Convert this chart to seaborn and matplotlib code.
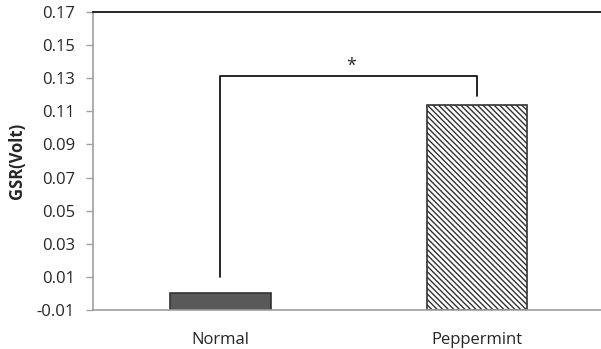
import numpy as np
import matplotlib
matplotlib.use("Agg")
import matplotlib.pyplot as plt
import seaborn as sns

# Dados do grafico
categorias = ["Normal", "Peppermint"]
valores = [0.0, 0.114]
y_min, y_max = -0.01, 0.17
y_ticks = np.round(np.arange(-0.01, 0.171, 0.02), 2)

# Linha de significancia (x das categorias, alturas)
sig_x = [0, 1]
sig_topo = 0.1316
sig_base = [0.010, 0.119]
sig_texto = "*"

sns.set_style("white")
plt.rcParams["font.family"] = ["Open Sans", "DejaVu Sans"]
plt.rcParams["hatch.color"] = "#555555"
plt.rcParams["hatch.linewidth"] = 1.0

fig = plt.figure(figsize=(6.01, 3.49), dpi=100)
ax = fig.add_axes([0.1547, 0.1117, 0.8453, 0.8539])

sns.barplot(x=categorias, y=valores, ax=ax, width=0.39,
            palette=["#595959", "white"], hue=categorias, legend=False,
            edgecolor="#333333", linewidth=1.2, saturation=1)

# Barras comecam no minimo do eixo (estilo Excel)
for barra, v in zip(ax.patches, valores):
    barra.set_y(y_min)
    barra.set_height(v - y_min)

ax.patches[1].set_hatch("\\\\\\\\\\\\")

# Colchete de significancia
ax.plot([sig_x[0], sig_x[0], sig_x[1], sig_x[1]],
        [sig_base[0], sig_topo, sig_topo, sig_base[1]],
        color="black", linewidth=1.2)
ax.text((sig_x[0] + sig_x[1]) / 2 + 0.01, sig_topo + 0.0005, sig_texto,
        ha="center", va="bottom", fontsize=13)

ax.set_xlim(-0.497, 1.483)
ax.set_ylim(y_min, y_max)
ax.set_yticks(y_ticks)
ax.set_yticklabels([f"{t:.2f}" for t in y_ticks])
ax.set_ylabel("GSR(Volt)", fontweight="bold", fontsize=12, labelpad=8)
ax.set_xlabel("")

ax.tick_params(axis="y", which="both", left=True, length=5, width=1,
               color="#a0a0a0", labelsize=12, pad=8)
ax.tick_params(axis="x", bottom=False, labelsize=12, pad=12)

for lado in ["left", "bottom"]:
    ax.spines[lado].set_color("#a0a0a0")
    ax.spines[lado].set_linewidth(1.2)
ax.spines["top"].set_color("black")
ax.spines["top"].set_linewidth(1.2)
ax.spines["right"].set_visible(False)

fig.savefig("out.png", dpi=100)
